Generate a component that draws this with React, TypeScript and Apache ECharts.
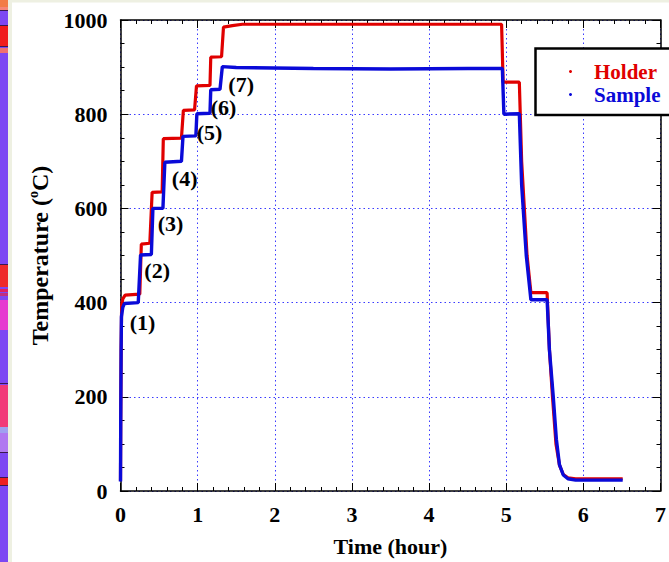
import React, { useEffect, useRef } from "react";
import * as echarts from "echarts";

// Holder (red) thermocouple: time (hour) and temperature (°C)
const holderTime = [
  0, 0.003, 0.008, 0.015, 0.03, 0.06, 0.25, 0.27, 0.38, 0.41, 0.54, 0.555,
  0.79, 0.815, 0.96, 0.985, 1.16, 1.17, 1.31, 1.335, 1.45, 1.58, 4.94, 4.96,
  5.17, 5.2, 5.27, 5.32, 5.53, 5.56, 5.6, 5.645, 5.69, 5.74, 5.8, 5.9, 6.51,
];
const holderTemp = [
  22, 150, 300, 395, 408, 416, 418, 524, 526, 634, 635, 748,
  749, 808, 809, 860, 861, 921, 922, 985, 988, 991, 991, 868,
  868, 700, 500, 421, 421, 300, 200, 100, 55, 35, 28, 26, 26,
];

// Sample (blue) temperature
const sampleTime = [
  0, 0.003, 0.008, 0.012, 0.03, 0.05, 0.23, 0.26, 0.4, 0.42, 0.55, 0.575,
  0.79, 0.81, 0.977, 0.99, 1.16, 1.17, 1.29, 1.32, 1.5, 2.5, 3.5, 4.5, 4.95,
  4.97, 5.17, 5.2, 5.26, 5.32, 5.53, 5.56, 5.61, 5.65, 5.69, 5.74, 5.8, 5.9, 6.51,
];
const sampleTemp = [
  20, 150, 300, 370, 390, 398, 400, 501, 502, 600, 600, 698,
  700, 753, 754, 801, 802, 852, 853, 901, 899, 897, 896, 897, 897,
  800, 801, 650, 500, 406, 406, 300, 200, 110, 56, 34, 26, 23, 23,
];

// Stage annotations
const stageLabels = ["(1)", "(2)", "(3)", "(4)", "(5)", "(6)", "(7)"];
const stageTime = [0.286, 0.475, 0.648, 0.832, 1.155, 1.335, 1.564];
const stageTemp = [357, 468, 567, 664, 762, 814, 863];

const seriesNames = ["Holder", "Sample"];
const seriesColors = ["#e00000", "#0a0ad8"];

const FONT = "'Liberation Serif', 'Times New Roman', serif";

// decorative left strip bands [y0, y1, color]
const stripBands: [number, number, string][] = [
  [0, 7, "#f27c48"], [7, 10, "#f5857a"], [10, 11, "#3a1850"], [25, 26, "#3a1850"],
  [26, 46, "#f01c1c"], [46, 47, "#3a1850"], [48, 53, "#f07070"], [264, 265, "#3a1850"],
  [265, 287, "#ee2a2a"], [289, 292, "#e02060"], [293, 296, "#c03080"], [300, 330, "#e63ad0"],
  [383, 384, "#3a1850"], [385, 427, "#f23a78"], [427, 433, "#a0a0f0"], [433, 452, "#b078f0"],
  [452, 453, "#3a1850"], [477, 478, "#3a1850"], [478, 485, "#ee2020"], [485, 486, "#3a1850"],
];

export default function App() {
  const ref = useRef<HTMLDivElement>(null);
  useEffect(() => {
    const chart = echarts.init(ref.current!, null, { renderer: "svg" });
    const axisLine = { show: true, onZero: false, lineStyle: { color: "#000", width: 1.5 } };
    const axisTick = { show: true, inside: true, length: 8, lineStyle: { color: "#000", width: 1 } };
    const splitLine = { show: true, lineStyle: { color: "#3a3aff", type: [1.5, 3] as any, width: 1 } };
    const tickLabel = { color: "#000", fontSize: 22, fontWeight: "bold" as const, fontFamily: FONT };

    const graphics: any[] = [
      { type: "rect", silent: true, z: -10, shape: { x: 0, y: 0, width: 8, height: 562 }, style: { fill: "#7d47f3" } },
      ...stripBands.map(([a, b, c]) => ({
        type: "rect", silent: true, z: -9, shape: { x: 0, y: a, width: 8, height: b - a }, style: { fill: c },
      })),
      { type: "rect", silent: true, z: -9, shape: { x: 8, y: 0, width: 4, height: 562 }, style: { fill: "#eef0e2" } },
      { type: "rect", silent: true, z: -9, shape: { x: 8, y: 0, width: 661, height: 2.5 }, style: { fill: "#eef0e2" } },
      {
        type: "rect", silent: true, z: 5,
        shape: { x: 535.5, y: 48.5, width: 140, height: 66.5 },
        style: { fill: "#fff", stroke: "#000", lineWidth: 2.5 },
      },
    ];

    const option: any = {
      animation: false,
      backgroundColor: "#fff",
      grid: { left: 120.5, right: 6, top: 20, bottom: 69 },
      legend: {
        show: true,
        orient: "vertical",
        left: 569,
        top: 60,
        padding: 0,
        itemGap: 0,
        itemWidth: 37,
        itemHeight: 3,
        icon: "circle",
        z: 10,
        textStyle: { fontSize: 21, fontWeight: "bold", fontFamily: FONT, lineHeight: 23 },
        data: seriesNames.map((n, i) => ({ name: n, textStyle: { color: seriesColors[i] } })),
      },
      xAxis: [
        {
          type: "value", min: 0, max: 7, interval: 1, position: "bottom",
          axisLine, axisTick,
          minorTick: { show: true, splitNumber: 5, length: 4, lineStyle: { color: "#000" } },
          splitLine,
          axisLabel: { ...tickLabel, margin: 12, showMaxLabel: true, showMinLabel: true, formatter: (v: number) => String(v) },
          name: "Time (hour)", nameLocation: "middle", nameGap: 44,
          nameTextStyle: { color: "#000", fontSize: 22, fontWeight: "bold", fontFamily: FONT },
        },
        {
          type: "value", min: 0, max: 7, interval: 1, position: "top",
          axisLine, axisTick,
          minorTick: { show: true, splitNumber: 5, length: 4, lineStyle: { color: "#000" } },
          splitLine: { show: false }, axisLabel: { show: false },
        },
      ],
      yAxis: [
        {
          type: "value", min: 0, max: 1000, interval: 200, position: "left",
          axisLine, axisTick,
          minorTick: { show: true, splitNumber: 4, length: 4, lineStyle: { color: "#000" } },
          splitLine,
          axisLabel: { ...tickLabel, margin: 13, formatter: (v: number) => String(v) },
          name: "Temperature ({sup|o}C)", nameLocation: "middle", nameGap: 59,
          nameTextStyle: {
            color: "#000", fontSize: 24, fontWeight: "bold", fontFamily: FONT, lineHeight: 26,
            rich: {
              sup: { fontSize: 14, fontWeight: "bold", fontFamily: FONT, color: "#000", verticalAlign: "top", lineHeight: 14 },
            },
          },
        },
        {
          type: "value", min: 0, max: 1000, interval: 200, position: "right",
          axisLine, axisTick,
          minorTick: { show: true, splitNumber: 4, length: 4, lineStyle: { color: "#000" } },
          splitLine: { show: false }, axisLabel: { show: false },
        },
      ],
      graphic: graphics,
      series: [
        {
          name: seriesNames[0], type: "line", showSymbol: false, z: 3,
          data: holderTime.map((t, i) => [t, holderTemp[i]]),
          lineStyle: { color: seriesColors[0], width: 3.2 },
          itemStyle: { color: seriesColors[0] },
        },
        {
          name: seriesNames[1], type: "line", showSymbol: false, z: 4,
          data: sampleTime.map((t, i) => [t, sampleTemp[i]]),
          lineStyle: { color: seriesColors[1], width: 3.4 },
          itemStyle: { color: seriesColors[1] },
        },
        {
          name: "stages", type: "scatter", symbolSize: 1, z: 6,
          itemStyle: { color: "rgba(0,0,0,0)" },
          data: stageLabels.map((s, i) => ({ name: s, value: [stageTime[i], stageTemp[i]] })),
          label: {
            show: true, position: "inside", formatter: "{b}",
            fontSize: 22, fontWeight: "bold", fontFamily: FONT, color: "#000",
            textBorderWidth: 0, opacity: 1,
          },
        },
      ],
    };
    chart.setOption(option);
    return () => chart.dispose();
  }, []);
  return (
    <div
      ref={ref}
      style={{ position: "absolute", left: 0, top: 0, width: 669, height: 562, background: "#fff" }}
    />
  );
}
